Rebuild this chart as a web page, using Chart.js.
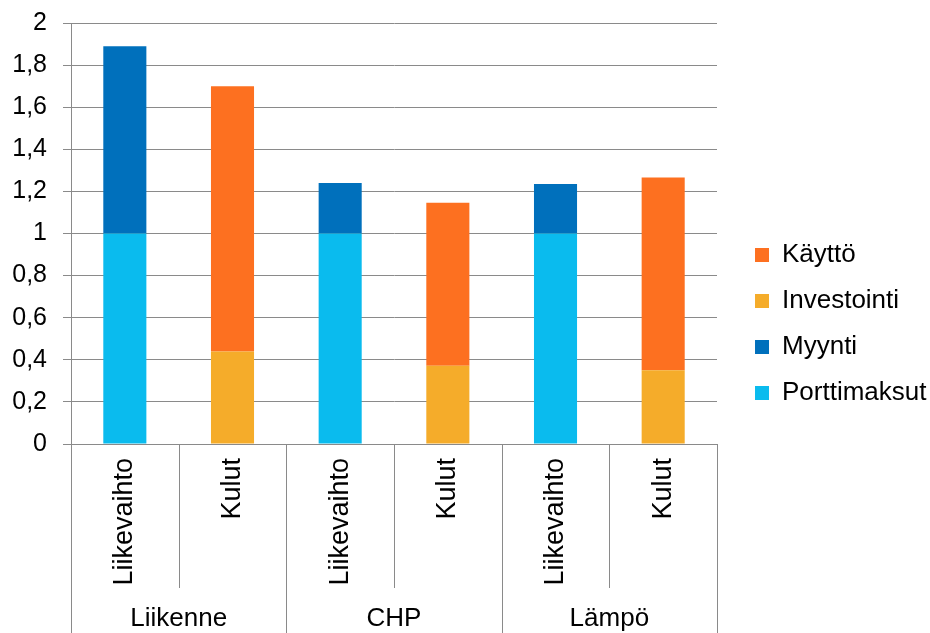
<!DOCTYPE html>
<html>
<head>
<meta charset="utf-8">
<title>Liikevaihto ja kulut</title>
<script src="https://cdn.jsdelivr.net/npm/chart.js@4.4.0/dist/chart.umd.min.js"></script>
<style>
  html, body { margin: 0; padding: 0; background: #fff; }
  #wrap { position: relative; width: 930px; height: 633px; }
</style>
</head>
<body>
<div id="wrap"><canvas id="gr1"></canvas></div>
<script>
// categories (two levels)
const bars = ['Liikevaihto', 'Kulut', 'Liikevaihto', 'Kulut', 'Liikevaihto', 'Kulut'];
const groups = ['Liikenne', 'CHP', 'Lämpö'];

// series, null where the series is not part of the bar
const porttimaksut = [1, null, 1, null, 1, null];
const myynti = [0.89, null, 0.24, null, 0.235, null];
const investointi = [null, 0.44, null, 0.372, null, 0.35];
const kaytto = [null, 1.26, null, 0.774, null, 0.916];

// y tick labels (Finnish decimal comma)
const yTickLabels = ['0', '0,2', '0,4', '0,6', '0,8', '1', '1,2', '1,4', '1,6', '1,8', '2'];

const gridGrey = '#8a8a8a';

Chart.defaults.font.family = "'Liberation Sans', Arial, sans-serif";
Chart.defaults.font.size = 25;
Chart.defaults.color = '#000';

// separator lines of the two-level category axis
const separators = {
  id: 'separators',
  afterDraw(chart) {
    const x = chart.scales.x;
    const ctx = chart.ctx;
    const step = x.getPixelForValue(1) - x.getPixelForValue(0);
    ctx.save();
    ctx.strokeStyle = gridGrey;
    ctx.lineWidth = 1;
    for (let i = 0; i <= bars.length; i++) {
      const px = Math.round(x.getPixelForValue(0) - step / 2 + i * step) + 0.5;
      const bottom = (i % 2 === 0) ? chart.height : x.bottom;
      ctx.beginPath();
      ctx.moveTo(px, x.top);
      ctx.lineTo(px, bottom);
      ctx.stroke();
    }
    ctx.restore();
  }
};

// move the legend a bit away from the plot area
const legendShift = {
  id: 'legendShift',
  afterLayout(chart) {
    const lg = chart.legend;
    lg.left += 18; lg.right += 18;
    lg.top -= 4; lg.bottom -= 4;
  }
};

const config = {
  type: 'bar',
  data: {
    labels: bars,
    datasets: [
      { label: 'Porttimaksut', data: porttimaksut, backgroundColor: '#0abbee' },
      { label: 'Myynti', data: myynti, backgroundColor: '#0070bc' },
      { label: 'Investointi', data: investointi, backgroundColor: '#f5ac2a' },
      { label: 'Käyttö', data: kaytto, backgroundColor: '#fd7020' }
    ]
  },
  options: {
    responsive: true,
    maintainAspectRatio: false,
    animation: false,
    datasets: { bar: { categoryPercentage: 1, barPercentage: 0.4, borderWidth: 0 } },
    layout: { padding: { left: 0, top: 23, right: 11.5, bottom: 0 } },
    scales: {
      x: {
        stacked: true,
        grid: { display: false },
        border: { display: true, color: gridGrey, width: 1 },
        ticks: { autoSkip: false, minRotation: 90, maxRotation: 90, padding: 6, font: { size: 27 } },
        afterFit(s) { s.height = 144; }
      },
      x2: {
        type: 'category',
        labels: groups,
        position: 'bottom',
        offset: true,
        grid: { display: false },
        border: { display: false },
        ticks: { maxRotation: 0, padding: 7, font: { size: 26 } },
        afterFit(s) { s.height = 45; }
      },
      y: {
        stacked: true,
        min: 0,
        max: 2,
        grid: { color: gridGrey, tickLength: 8 },
        border: { display: true, color: gridGrey },
        ticks: {
          stepSize: 0.2,
          padding: 16,
          callback: (v, i) => yTickLabels[i]
        },
        afterFit(s) { s.width = 71; s.paddingTop = 0; s.paddingBottom = 0; }
      }
    },
    plugins: {
      legend: {
        position: 'right',
        reverse: true,
        labels: { boxWidth: 14, boxHeight: 14, padding: 20, color: '#000', font: { size: 26 } }
      },
      tooltip: { enabled: false }
    }
  },
  plugins: [separators, legendShift]
};

new Chart(document.getElementById('gr1').getContext('2d'), config);
</script>
</body>
</html>
